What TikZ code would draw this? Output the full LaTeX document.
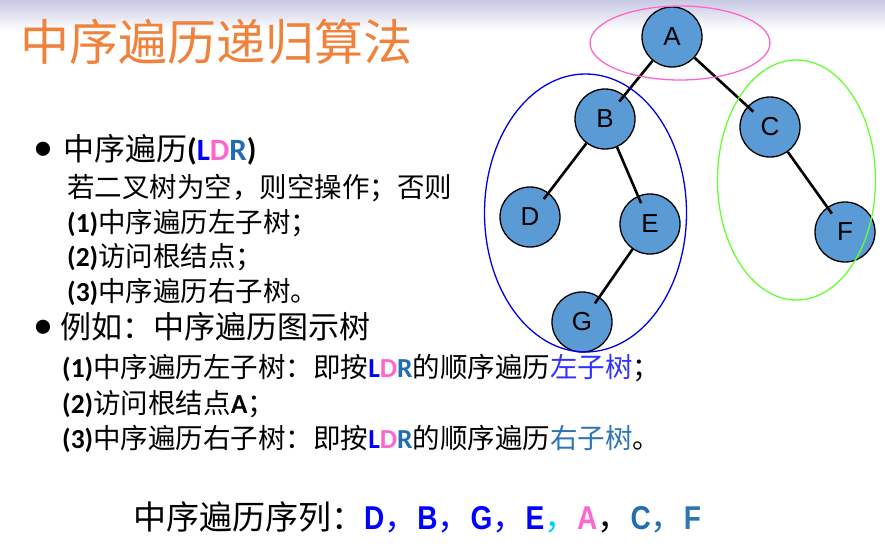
\documentclass[tikz,border=0pt]{standalone}
\usepackage{fontspec}
\setmainfont{Noto Sans CJK SC}
\newfontfamily\latf{Carlito}
\newfontfamily\arialf{Liberation Sans}
\newfontfamily\narrowf[FakeStretch=0.85]{Liberation Sans}
\usetikzlibrary{positioning}

\definecolor{bandlav}{RGB}{200,200,228}
\definecolor{titleorange}{RGB}{240,130,60}
\definecolor{nodeblue}{RGB}{91,155,213}
\definecolor{ldrL}{RGB}{0,0,255}
\definecolor{ldrD}{RGB}{255,102,204}
\definecolor{ldrR}{RGB}{31,110,180}
\definecolor{ltree}{RGB}{50,50,255}
\definecolor{rtree}{RGB}{46,117,182}
\definecolor{ringpink}{RGB}{255,102,204}
\definecolor{ringblue}{RGB}{0,0,230}
\definecolor{ringgreen}{RGB}{102,255,51}
\definecolor{commacyan}{RGB}{0,204,255}

\newcommand{\ldr}{{\latf\bfseries\textcolor{ldrL}{L}\textcolor{ldrD}{D}\textcolor{ldrR}{R}}}
\newcommand{\num}[1]{{\latf\bfseries(#1)}}
\newcommand{\dotmark}{{\latf\fontsize{40}{40}\selectfont\textbullet}}
\newcommand{\seqch}[2]{{\narrowf\bfseries\textcolor{#1}{#2}}}

\begin{document}
\begin{tikzpicture}[
    x=1pt, y=-1pt,
    tnode/.style={
      circle, draw, line width=1.3pt, fill=nodeblue,
      minimum size=60pt, inner sep=0pt,
      font=\arialf\fontsize{26}{26}\selectfont},
    edge/.style={line width=2.6pt, shorten >=-8pt},
    txt/.style={
      anchor=west, inner sep=0pt,
      text height=0.88em, text depth=0.12em,
      font=\fontsize{27.5}{30}\selectfont},
    headtxt/.style={txt, font=\fontsize{31}{34}\selectfont},
    seqtxt/.style={txt, font=\fontsize{33}{36}\selectfont},
    ring/.style={line width=1.3pt},
]

\useasboundingbox (0,0) rectangle (885,549);
\shade[top color=bandlav, bottom color=white] (0,0) rectangle (885,30);

% ---- title ----
\node[anchor=west, inner sep=0pt, text=titleorange,
      font=\fontsize{49}{52}\selectfont] (title) at (20,42) {中序遍历递归算法};

% ---- tree ----
\node[tnode] (A) at (672,37)  {A};
\node[tnode] (B) at (605,119) {B};
\node[tnode] (C) at (770,127) {C};
\node[tnode] (D) at (530,217) {D};
\node[tnode] (E) at (650,224) {E};
\node[tnode] (F) at (845,232) {F};
\node[tnode] (G) at (582,322) {G};

\draw[edge] (A) -- (B);
\draw[edge] (A) -- (C);
\draw[edge] (B) -- (D);
\draw[edge] (B) -- (E);
\draw[edge] (E) -- (G);
\draw[edge] (C) -- (F);

% ---- root / left / right rings ----
\draw[ring, ringpink]  (680,43)    ellipse [x radius=90,  y radius=37];
\draw[ring, ringblue]  (585.5,213) ellipse [x radius=101, y radius=139];
\draw[ring, ringgreen] (796.5,180) ellipse [x radius=79,  y radius=120];

% ---- rule text ----
\node[headtxt] (h1) at (33,157) {\dotmark\hspace{10pt}中序遍历{\latf\bfseries(}\ldr{\latf\bfseries)}};
\node[txt] (l1) at (67,194) {若二叉树为空，则空操作；否则};
\node[txt] (l2) at (67,229) {\num{1}中序遍历左子树；};
\node[txt] (l3) at (67,263) {\num{2}访问根结点；};
\node[txt] (l4) at (67,298) {\num{3}中序遍历右子树。};

% ---- example text ----
\node[headtxt] (h2) at (33,335) {\dotmark\hspace{7pt}例如：中序遍历图示树};
\node[txt] (e1) at (62,374) {\num{1}中序遍历左子树：即按\ldr 的顺序遍历\textcolor{ltree}{左子树}；};
\node[txt] (e2) at (62,410) {\num{2}访问根结点{\latf\bfseries A}；};
\node[txt] (e3) at (62,445) {\num{3}中序遍历右子树：即按\ldr 的顺序遍历\textcolor{rtree}{右子树}。};

% ---- result ----
\node[seqtxt] (seq) at (133,526) {中序遍历序列：%
  \seqch{ldrL}{D}\textcolor{ldrL}{，}\seqch{ldrL}{B}\textcolor{ldrL}{，}%
  \seqch{ldrL}{G}\textcolor{ldrL}{，}\seqch{ldrL}{E}\textcolor{commacyan}{，}%
  \seqch{ldrD}{A}，\seqch{ldrR}{C}\textcolor{ldrR}{，}\seqch{rtree}{F}};

\end{tikzpicture}
\end{document}
